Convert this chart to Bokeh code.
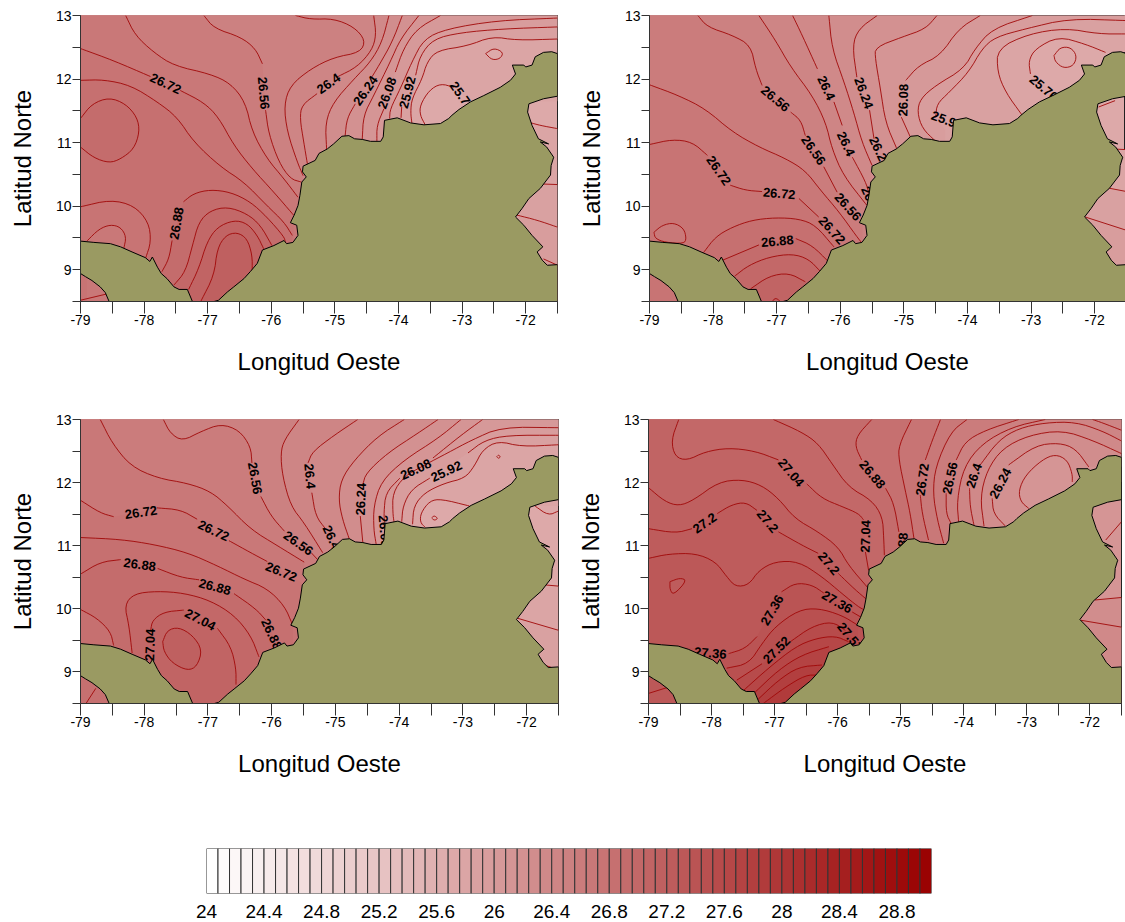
from bokeh.plotting import figure
from bokeh.layouts import column, row
from bokeh.models import Range1d, FixedTicker, Label
from bokeh.core.properties import value
from bokeh.embed import file_html
from bokeh.resources import INLINE

FONT = "Liberation Sans"
X_TICKS = [-79, -78, -77, -76, -75, -74, -73, -72]
X_LABELS = ["-79", "-78", "-77", "-76", "-75", "-74", "-73", "-72"]
X_MINOR = [-78.5, -77.5, -76.5, -75.5, -74.5, -73.5, -72.5, -71.5]
Y_TICKS = [9, 10, 11, 12, 13]
Y_MINOR = [8.5, 9.5, 10.5, 11.5, 12.5]
BAR_TICKS = [24, 24.4, 24.8, 25.2, 25.6, 26, 26.4, 26.8, 27.2, 27.6, 28, 28.4, 28.8]
BAR_LABELS = ["24", "24.4", "24.8", "25.2", "25.6", "26", "26.4", "26.8", "27.2", "27.6", "28", "28.4", "28.8"]
BAR_START, BAR_STEP, BAR_CELLS = 24.0, 0.08, 63

COAST_EAST = [(-76.90,8.50),(-76.83,8.52),(-76.69,8.65),(-76.59,8.73),(-76.43,8.86),(-76.33,8.97),(-76.22,9.10),(-76.14,9.31),
 (-75.96,9.38),(-75.80,9.46),(-75.76,9.41),(-75.66,9.43),(-75.58,9.54),(-75.60,9.70),(-75.70,9.74),(-75.64,9.86),(-75.58,10.01),
 (-75.55,10.17),(-75.52,10.38),(-75.45,10.46),(-75.51,10.54),(-75.50,10.63),(-75.31,10.72),(-75.25,10.83),(-75.12,10.90),(-75.02,10.98),
 (-74.89,11.10),(-74.78,11.11),(-74.69,11.06),(-74.57,11.05),(-74.44,11.02),(-74.28,11.02),(-74.24,11.09),(-74.22,11.35),(-74.02,11.39),
 (-73.81,11.31),(-73.60,11.28),(-73.34,11.30),(-73.21,11.38),(-73.16,11.43),(-73.05,11.52),(-72.87,11.64),(-72.66,11.74),(-72.40,11.87),
 (-72.24,11.98),(-72.16,12.08),(-72.21,12.22),(-72.03,12.22),(-72.00,12.19),(-71.90,12.22),(-71.85,12.35),(-71.72,12.42),(-71.59,12.43),
 (-71.5,12.40),(-71.5,11.73),(-71.72,11.69),(-71.95,11.61),(-71.97,11.48),(-71.90,11.27),(-71.80,11.06),(-71.64,10.98),(-71.77,11.01),
 (-71.67,10.93),(-71.56,10.77),(-71.60,10.64),(-71.61,10.49),(-71.77,10.28),(-71.95,10.12),(-72.06,9.96),(-72.16,9.83),(-72.03,9.70),
 (-71.90,9.54),(-71.73,9.36),(-71.82,9.28),(-71.74,9.15),(-71.66,9.07),(-71.5,9.08),(-71.5,8.5)]
COAST_WEST = [(-79,9.45),(-78.79,9.43),(-78.53,9.41),(-78.37,9.36),(-78.19,9.28),(-77.98,9.19),(-77.91,9.13),(-77.87,9.20),(-77.79,9.04),
 (-77.73,8.94),(-77.64,8.86),(-77.53,8.73),(-77.45,8.69),(-77.32,8.69),(-77.24,8.50),(-78.55,8.50),(-78.61,8.64),(-78.69,8.73),
 (-78.82,8.83),(-78.92,8.89),(-79,8.94)]

# (temperature, closing rule, read contour points; None = gap left for a label)
ENERO = [
 (25.76,"W",[(-72.87,11.65),None,(-73.13,11.87),(-73.34,11.93),(-73.52,11.82),(-73.66,11.59),(-73.66,11.43),(-73.58,11.28)]),
 (25.84,"W",[(-71.5,12.63),(-72.14,12.61),(-72.53,12.67),(-72.92,12.52),(-73.39,12.45),(-73.55,12.27),(-73.63,12.0),(-73.79,11.69),(-73.81,11.48),(-73.79,11.31)]),
 (25.92,"W",[(-71.5,12.82),(-72.35,12.79),(-73.03,12.73),(-73.45,12.63),(-73.66,12.37),(-73.73,12.06),None,(-73.95,11.56),(-73.96,11.39)]),
 (26.00,"W",[(-71.5,12.96),(-72.45,12.92),(-73.24,12.79),(-73.60,12.63),(-73.79,12.27),(-73.97,11.85),(-74.13,11.53),(-74.14,11.38)]),
 (26.08,"W",[(-73.34,13),(-73.71,12.79),(-73.92,12.48),(-74.05,12.11),None,(-74.23,11.53),(-74.34,11.27),(-74.34,11.02)]),
 (26.16,"W",[(-73.68,13),(-73.97,12.63),(-74.13,12.27),(-74.39,11.74),(-74.55,11.43),(-74.57,11.05)]),
 (26.24,"W",[(-73.94,13),(-74.10,12.58),(-74.31,12.21),(-74.42,12.03),None,(-74.68,11.61),(-74.81,11.38),(-74.84,11.10)]),
 (26.32,"W",[(-74.15,13),(-74.26,12.58),(-74.44,12.27),(-74.70,12.0),(-75.02,11.64),(-75.15,11.32),(-75.13,10.89)]),
 (26.40,"W",[(-74.39,13),(-74.35,12.69),(-74.42,12.45),(-74.65,12.19),(-74.97,12.03),None,(-75.28,11.77),(-75.52,11.59),(-75.55,11.38),(-75.49,11.01),(-75.43,10.65)]),
 (26.48,"W",[(-75.62,13),(-75.38,12.94),(-75.02,12.95),(-74.70,12.82),(-74.52,12.61),(-74.60,12.42),(-75.02,12.34),(-75.38,12.16),(-75.70,11.90),(-75.80,11.59),(-75.75,11.17),(-75.59,10.69),(-75.50,10.48)]),
 (26.56,"W",[(-77.06,13),(-76.90,12.80),(-76.48,12.66),(-76.25,12.48),(-76.14,12.24),None,(-76.09,11.51),(-76.04,11.14),(-75.88,10.69),(-75.70,10.43),(-75.53,10.38)]),
 (26.64,"W",[(-78.29,13),(-78.14,12.69),(-77.85,12.42),(-77.53,12.21),(-76.96,12.08),(-76.64,11.93),(-76.41,11.64),(-76.30,11.17),(-76.07,10.75),(-75.80,10.43),(-75.58,10.14)]),
 (26.72,"W",[(-79,12.48),(-78.48,12.29),(-77.90,12.04),None,(-77.43,11.82),(-77.06,11.63),(-76.83,11.40),(-76.59,10.96),(-76.30,10.59),(-75.96,10.22),(-75.65,9.86)]),
 (26.80,"W",[(-79,11.98),(-78.63,11.99),(-78.21,11.90),(-77.79,11.64),(-77.48,11.40),(-77.22,11.01),(-76.80,10.62),(-76.43,10.38),(-76.07,10.01),(-75.80,9.75),(-75.67,9.54)]),
 (26.88,"C",[(-79,11.38),(-78.82,11.61),(-78.55,11.71),(-78.29,11.61),(-78.11,11.40),(-78.07,11.17),(-78.16,10.90),(-78.37,10.74),(-78.55,10.68),(-78.79,10.76),(-79,10.93)]),
 (26.72,"W",[(-79,9.99),(-78.53,10.10),(-78.16,10.01),(-77.93,9.75),(-77.89,9.44),(-77.98,9.17)]),
 (26.64,"S",[(-78.90,9.45),(-78.71,9.64),(-78.53,9.71),(-78.37,9.67),(-78.28,9.52),(-78.32,9.33)]),
 (26.88,"S",[(-77.72,8.97),(-77.61,9.17),(-77.56,9.46),None,(-77.38,10.07),(-77.22,10.20),(-76.96,10.26),(-76.64,10.22),(-76.33,10.07),(-76.07,9.83),(-75.80,9.52),(-75.78,9.44)]),
 (26.96,"S",[(-77.53,8.76),(-77.35,8.97),(-77.24,9.38),(-77.14,9.75),(-76.96,9.93),(-76.69,9.99),(-76.38,9.88),(-76.17,9.70),(-75.99,9.38)]),
 (27.04,"S",[(-77.30,8.69),(-77.14,9.02),(-77.01,9.44),(-76.85,9.67),(-76.59,9.78),(-76.38,9.73),(-76.22,9.54),(-76.12,9.33)]),
 (27.12,"S",[(-77.11,8.5),(-76.90,8.91),(-76.85,9.33),(-76.72,9.54),(-76.54,9.59),(-76.38,9.49),(-76.30,9.23),(-76.30,8.97)]),
 (25.68,"C",[(-72.63,12.40),(-72.50,12.49),(-72.35,12.42),(-72.40,12.32),(-72.53,12.30),(-72.63,12.40)]),
 (26.48,"N",[(-79,8.52),(-78.58,8.62)]),
 (25.76,"R",[(-71.95,11.32),(-71.77,11.27),(-71.5,11.22)]),
 (25.84,"R",[(-71.77,10.35),(-71.5,10.34)]),
 (25.92,"R",[(-72.14,9.86),(-71.82,9.78),(-71.5,9.67)]),
 (26.00,"R",[(-71.72,9.17),(-71.5,9.07)]),
]
ENERO_TEXT = ["26.72","26.56","26.4","26.24","26.08","25.92","25.76","26.88"]
ENERO_LON = [-77.66,-76.12,-75.10,-74.52,-74.18,-73.86,-73.0,-77.49]
ENERO_LAT = [11.93,11.78,11.93,11.82,11.78,11.79,11.73,9.73]
ENERO_ANG = [-25,-85,35,55,70,75,-55,80]

FEBRERO = [
 (25.76,"W",[(-71.83,12.42),(-72.15,12.55),(-72.57,12.67),(-72.93,12.48),(-73.04,12.29),(-73.01,12.08),None,(-72.62,11.77)]),
 (25.84,"W",[(-71.5,12.71),(-71.94,12.71),(-72.46,12.80),(-73.04,12.71),(-73.53,12.48),(-73.53,12.11),(-73.40,11.79),(-73.14,11.43)]),
 (25.92,"W",[(-71.5,12.92),(-72.41,12.95),(-73.09,12.79),(-73.56,12.66),(-73.77,12.48),(-73.98,12.11),(-74.29,11.79),(-74.48,11.61),(-74.50,11.40),None,(-74.35,11.2)]),
 (26.00,"W",[(-72.98,13),(-73.61,12.79),(-73.88,12.48),(-74.06,12.16),(-74.50,11.90),(-74.74,11.69),(-74.79,11.48),(-74.71,11.22),(-74.50,11.02)]),
 (26.08,"W",[(-73.80,13),(-74.14,12.79),(-74.43,12.37),(-74.77,12.21),(-74.97,11.98),None,(-75.04,11.40),(-74.90,11.09)]),
 (26.16,"W",[(-74.48,13),(-74.66,12.79),(-75.03,12.66),(-75.45,12.50),(-75.45,12.32),(-75.37,11.85),(-75.29,11.32),(-75.11,10.90)]),
 (26.24,"W",[(-75.42,13),(-75.71,12.79),(-75.81,12.53),(-75.74,12.03),None,(-75.54,11.51),(-75.47,11.06),None,(-75.25,10.75)]),
 (26.32,"W",[(-76.18,13),(-76.13,12.48),(-75.94,11.95),(-75.79,11.48),(-75.66,11.01),(-75.50,10.64)]),
 (26.40,"W",[(-76.75,13),(-76.60,12.69),(-76.36,12.16),None,(-76.10,11.64),(-75.97,11.27),None,(-75.81,10.77),(-75.60,10.38),(-75.55,10.2)]),
 (26.48,"W",[(-77.28,13),(-77.02,12.61),(-76.78,12.19),(-76.44,11.74),(-76.23,11.32),(-76.13,10.90),(-75.95,10.48),(-75.58,10.01)]),
 (26.56,"W",[(-78.24,13),(-78.09,12.82),(-77.70,12.69),(-77.41,12.53),(-77.33,12.16),(-77.23,11.90),None,(-76.78,11.48),(-76.62,11.35),(-76.55,11.11),None,(-76.26,10.62),(-76.05,10.22),None,(-75.65,9.80)]),
 (26.64,"W",[(-79,11.91),(-78.54,11.74),(-78.12,11.53),(-77.70,11.17),(-77.28,10.93),(-76.86,10.75),(-76.55,10.56),(-76.31,10.25),(-76.02,9.91),(-75.74,9.52),(-75.66,9.42)]),
 (26.72,"W",[(-79,10.97),(-78.64,11.05),(-78.33,11.01),(-78.09,10.80),None,(-77.73,10.33),(-77.49,10.25),(-77.23,10.23),None,(-76.65,10.12),(-76.34,9.83),None,(-76.0,9.4)]),
 (26.64,"C",[(-78.93,9.59),(-78.80,9.70),(-78.62,9.74),(-78.46,9.65),(-78.42,9.49),(-78.46,9.41),(-78.75,9.43),(-78.91,9.49),(-78.93,9.59)]),
 (26.80,"S",[(-78.15,9.27),(-77.96,9.52),(-77.70,9.67),(-77.39,9.78),(-77.02,9.82),(-76.65,9.80),(-76.39,9.70),(-76.10,9.36)]),
 (26.88,"S",[(-77.85,9.15),(-77.28,9.39),None,(-76.70,9.49),(-76.44,9.38),(-76.18,9.12)]),
 (26.96,"S",[(-77.66,8.90),(-77.44,9.07),(-77.12,9.20),(-76.76,9.25),(-76.50,9.17),(-76.31,8.97)]),
 (27.04,"S",[(-77.41,8.70),(-77.12,8.90),(-76.81,8.95),(-76.55,8.81)]),
 (27.12,"S",[(-77.07,8.50),(-77.02,8.56),(-76.94,8.50)]),
 (25.68,"C",[(-72.64,12.37),(-72.54,12.50),(-72.38,12.50),(-72.28,12.37),(-72.33,12.21),(-72.49,12.17),(-72.62,12.27),(-72.64,12.37)]),
 (25.68,"N",[(-71.94,11.56),(-71.68,11.66)]),
 (25.76,"R",[(-71.73,10.90),(-71.5,10.89)]),
 (25.84,"R",[(-71.81,10.29),(-71.5,10.23)]),
 (25.92,"R",[(-72.15,9.83),(-71.5,9.62)]),
]
FEBRERO_TEXT = ["26.56","26.4","26.24","26.08","25.76","25.92","26.56","26.4","26.24","26.4","26.72","26.72","26.56","26.72","26.88"]
FEBRERO_LON = [-77.02,-76.22,-75.63,-75.01,-72.80,-74.32,-76.42,-75.91,-75.38,-75.53,-77.91,-76.96,-75.88,-76.13,-76.99]
FEBRERO_LAT = [11.69,11.86,11.78,11.67,11.86,11.35,10.88,10.98,10.85,10.12,10.56,10.20,9.99,9.62,9.45]
FEBRERO_ANG = [-40,-65,-70,88,-40,-20,-55,-65,-65,-65,-55,-5,-48,-48,5]

MARZO = [
 (25.76,"W",[(-72.90,11.63),(-73.34,11.74),(-73.52,11.71),(-73.66,11.52),(-73.67,11.37),(-73.59,11.29)]),
 (25.84,"W",[(-71.5,12.60),(-72.08,12.57),(-72.45,12.66),(-72.69,12.52),(-72.82,12.26),(-72.97,12.07),(-73.29,11.99),(-73.60,11.84),(-73.77,11.63),(-73.79,11.34)]),
 (25.92,"W",[(-71.5,12.75),(-72.29,12.75),(-72.66,12.67),(-72.92,12.47),None,(-73.52,12.07),(-73.81,11.89),(-73.94,11.63),(-73.96,11.38)]),
 (26.00,"W",[(-71.5,12.87),(-72.40,12.88),(-72.87,12.67),(-73.24,12.47),(-73.60,12.28),(-73.92,12.10),(-74.10,11.84),(-74.10,11.52),(-74.08,11.37)]),
 (26.08,"W",[(-72.69,13),(-73.03,12.75),(-73.47,12.39),None,(-73.99,12.07),(-74.21,11.84),(-74.24,11.52),(-74.23,11.37)]),
 (26.16,"W",[(-73.03,13),(-73.39,12.70),(-73.92,12.36),(-74.28,12.02),(-74.40,11.63),(-74.40,11.26),(-74.36,11.02)]),
 (26.24,"W",[(-73.39,13),(-73.71,12.78),(-74.18,12.47),(-74.52,12.15),(-74.57,11.97),None,(-74.61,11.47),(-74.57,11.05)]),
 (26.32,"W",[(-73.92,13),(-74.34,12.73),(-74.70,12.36),(-74.91,12.05),(-74.95,11.73),(-74.89,11.42),(-74.78,11.10)]),
 (26.40,"W",[(-74.65,13),(-75.02,12.75),(-75.36,12.49),(-75.43,12.31),None,(-75.37,11.84),(-75.31,11.47),(-75.15,11.26),None,(-74.95,10.95)]),
 (26.48,"W",[(-75.57,13),(-75.80,12.68),(-75.86,12.47),(-75.83,12.10),(-75.70,11.63),(-75.49,11.36),(-75.2,10.89)]),
 (26.56,"W",[(-77.70,13),(-77.59,12.78),(-77.40,12.66),(-77.11,12.81),(-76.80,12.93),(-76.51,12.83),(-76.33,12.57),(-76.31,12.31),None,(-76.17,11.78),(-76.01,11.47),(-75.80,11.23),None,(-75.38,10.89),(-75.28,10.78)]),
 (26.64,"W",[(-78.69,13),(-78.50,12.62),(-78.21,12.26),(-77.79,12.07),(-77.32,11.99),(-76.96,11.86),(-76.69,11.63),(-76.33,11.26),(-75.91,11.0),(-75.49,10.74)]),
 (26.72,"W",[(-79,11.72),(-78.69,11.52),(-78.48,11.46),None,(-77.80,11.60),(-77.43,11.57),(-77.17,11.42),None,(-76.67,11.08),(-76.33,10.89),(-76.07,10.75),None,(-75.54,10.42)]),
 (26.80,"W",[(-79,11.13),(-78.37,11.10),(-77.85,11.02),(-77.32,10.89),(-76.85,10.68),(-76.43,10.47),(-76.07,10.32),(-75.80,10.05),(-75.67,9.74)]),
 (26.88,"W",[(-79,10.55),(-78.69,10.74),(-78.37,10.78),None,(-77.79,10.64),(-77.43,10.50),(-77.14,10.46),None,(-76.59,10.24),(-76.25,10.0),(-76.09,9.82),None,(-75.88,9.37)]),
 (26.80,"W",[(-79,9.99),(-78.74,9.85),(-78.53,9.64),(-78.48,9.42)]),
 (26.96,"S",[(-78.19,9.30),(-78.24,9.74),(-78.31,10.06),(-78.16,10.24),(-77.80,10.28),(-77.38,10.25),(-76.96,10.13),(-76.59,9.90),(-76.33,9.58),(-76.20,9.24)]),
 (27.04,"S",[(-77.91,9.14),None,(-77.90,9.66),(-77.87,9.82),(-77.69,9.95),(-77.38,9.98),None,(-76.85,9.69),(-76.64,9.40),(-76.56,9.06),(-76.56,8.80)]),
 (27.12,"C",[(-77.71,9.48),(-77.64,9.66),(-77.46,9.71),(-77.24,9.58),(-77.09,9.35),(-77.17,9.09),(-77.32,9.02),(-77.56,9.14),(-77.69,9.32),(-77.71,9.48)]),
 (25.68,"C",[(-73.49,11.44),(-73.45,11.48),(-73.39,11.43),(-73.45,11.40),(-73.49,11.44)]),
 (25.68,"C",[(-72.47,12.41),(-72.44,12.44),(-72.41,12.41),(-72.44,12.38),(-72.47,12.41)]),
 (26.80,"N",[(-78.76,8.74),(-78.92,8.49)]),
 (25.68,"N",[(-71.87,11.63),(-71.66,11.48),(-71.5,11.55)]),
 (25.76,"R",[(-71.72,10.38),(-71.5,10.36)]),
 (25.84,"R",[(-72.14,9.85),(-71.5,9.66)]),
 (25.92,"N",[(-71.72,9.11),(-71.61,9.07)]),
]
MARZO_TEXT = ["26.72","26.72","26.72","26.88","26.88","26.88","27.04","27.04","26.56","26.56","26.4","26.24","26.4","26.08","25.92","26.08"]
MARZO_LON = [-78.05,-76.91,-75.85,-78.07,-76.89,-76.0,-77.12,-77.91,-76.26,-75.58,-75.40,-74.60,-75.06,-73.74,-73.26,-74.23]
MARZO_LAT = [11.53,11.24,10.59,10.70,10.35,9.60,9.83,9.43,12.07,11.04,12.10,11.74,11.13,12.21,12.18,11.23]
MARZO_ANG = [8,-25,-22,-8,-15,-65,-28,88,-80,-35,-85,88,-65,25,25,-85]

ABRIL = [
 (26.16,"W",[(-72.28,12.01),(-72.28,12.14),(-72.36,12.36),(-72.55,12.45),(-72.76,12.36),(-73.02,12.12),(-73.13,11.88),(-73.10,11.70),(-72.97,11.59)]),
 (26.24,"W",[(-72.02,12.25),(-72.23,12.54),(-72.49,12.63),(-72.86,12.59),(-73.29,12.28),None,(-73.55,11.75),(-73.53,11.51),(-73.34,11.31)]),
 (26.32,"W",[(-71.5,12.46),(-71.96,12.67),(-72.44,12.83),(-72.97,12.75),(-73.39,12.54),(-73.63,12.20),(-73.74,11.77),(-73.68,11.31)]),
 (26.40,"W",[(-71.5,12.66),(-71.81,12.82),(-72.23,12.96),(-72.71,12.95),(-73.13,12.86),(-73.45,12.67),(-73.74,12.28),None,(-73.91,11.91),(-73.90,11.62),(-73.84,11.33)]),
 (26.48,"W",[(-72.71,13),(-73.24,12.88),(-73.71,12.62),(-74.0,12.25),(-74.11,11.72),(-74.08,11.35)]),
 (26.56,"W",[(-73.13,13),(-73.66,12.83),(-73.98,12.65),(-74.12,12.36),None,(-74.28,11.83),(-74.28,11.51),(-74.20,11.35)]),
 (26.64,"W",[(-73.95,13),(-74.21,12.80),(-74.45,12.25),(-74.49,11.83),(-74.42,11.41),(-74.32,11.04)]),
 (26.72,"W",[(-74.37,13),(-74.50,12.67),(-74.61,12.36),None,(-74.69,11.80),(-74.66,11.51),(-74.56,11.09)]),
 (26.80,"W",[(-74.83,13),(-75.03,12.59),(-75.03,12.36),(-74.93,11.88),(-74.85,11.51),(-74.79,11.11)]),
 (26.88,"W",[(-75.46,13),(-75.69,12.75),(-75.72,12.57),(-75.62,12.36),None,(-75.24,11.91),(-75.11,11.67),(-75.03,11.22)]),
 (26.96,"W",[(-77.02,13),(-76.57,12.80),(-76.31,12.62),(-76.09,12.30),(-75.83,11.93),(-75.46,11.72),(-75.29,11.46),(-75.27,11.12),(-75.26,10.85)]),
 (27.04,"W",[(-78.52,13),(-78.64,12.67),(-78.58,12.41),(-78.39,12.35),(-78.10,12.49),(-77.73,12.55),(-77.31,12.50),(-76.94,12.36),None,(-76.49,11.98),(-76.25,11.75),(-75.93,11.62),(-75.67,11.51),(-75.59,11.41),None,(-75.56,10.90),(-75.51,10.61)]),
 (27.12,"W",[(-79,11.92),(-78.74,11.70),(-78.52,11.63),(-78.29,11.72),(-77.89,12.01),(-77.52,12.05),(-77.21,11.96),(-76.94,11.75),(-76.68,11.43),(-76.31,11.22),(-75.99,10.98),(-75.83,10.69),(-75.51,10.32)]),
 (27.20,"W",[(-79,11.27),(-78.57,11.20),(-78.31,11.27),None,(-77.91,11.51),(-77.68,11.65),(-77.46,11.69),(-77.28,11.56),None,(-76.94,11.22),(-76.57,11.01),(-76.31,10.88),None,(-75.99,10.56),(-75.72,10.30),(-75.53,10.14)]),
 (27.28,"W",[(-79,10.80),(-78.68,10.87),(-78.26,10.88),(-77.94,10.75),(-77.76,10.51),(-77.62,10.35),(-77.41,10.38),(-77.25,10.61),(-76.99,10.75),(-76.62,10.75),(-76.25,10.51),(-75.93,10.24),(-75.67,10.03),(-75.57,9.98)]),
 (27.20,"C",[(-78.66,10.43),(-78.50,10.49),(-78.39,10.45),(-78.60,10.22),(-78.66,10.30),(-78.66,10.43)]),
 (27.36,"S",[(-78.42,9.40),None,(-77.73,9.29),(-77.47,9.37),(-77.28,9.56),None,(-76.89,10.27),(-76.67,10.41),(-76.41,10.38),(-76.22,10.25),None,(-75.77,9.95),(-75.60,9.85)]),
 (27.44,"S",[(-77.76,9.06),(-77.41,9.13),(-77.20,9.45),(-76.99,9.72),(-76.62,9.98),(-76.31,10.01),(-75.94,9.90),(-75.68,9.74)]),
 (27.52,"S",[(-77.60,8.87),(-77.20,9.13),None,(-76.75,9.48),(-76.41,9.72),(-76.09,9.80),(-75.88,9.66),None,(-75.69,9.45)]),
 (27.60,"S",[(-77.49,8.71),(-77.10,9.06),(-76.67,9.40),(-76.35,9.53),(-76.04,9.57),(-75.83,9.48)]),
 (27.68,"S",[(-77.33,8.66),(-76.94,9.03),(-76.57,9.27),(-76.14,9.40)]),
 (27.76,"S",[(-77.28,8.55),(-76.94,8.87),(-76.62,9.08),(-76.25,9.11)]),
 (27.84,"S",[(-77.18,8.50),(-76.83,8.76),(-76.51,8.95),(-76.30,8.95)]),
 (26.48,"N",[(-71.5,12.83),(-71.81,12.95),(-71.96,13)]),
 (27.20,"N",[(-79,8.66),(-78.68,8.76)]),
 (26.16,"N",[(-71.75,11.09),(-71.5,11.38)]),
 (26.24,"R",[(-71.92,10.14),(-71.5,10.18)]),
 (26.32,"R",[(-72.15,9.82),(-71.5,9.71)]),
]
ABRIL_TEXT = ["27.04","26.88","26.72","26.56","26.4","26.24","27.2","27.2","27.04","27.2","27.36","27.36","27.36","27.52","27.52","26.88"]
ABRIL_LON = [-76.74,-75.45,-74.66,-74.22,-73.84,-73.42,-78.11,-77.11,-75.56,-76.14,-77.04,-76.01,-78.02,-76.97,-75.80,-74.98]
ABRIL_LAT = [12.16,12.13,12.05,12.07,12.11,11.99,11.36,11.39,11.15,10.72,9.98,10.11,9.30,9.35,9.56,10.95]
ABRIL_ANG = [-50,-50,82,78,72,62,35,-50,88,-50,60,-30,-5,45,-50,85]


def ramp(v):
    t = min(max((v - 24.0) / 5.0, 0), 1)
    return "#%02x%02x%02x" % (round(255 - 102 * t), round(255 * (1 - t)), round(255 * (1 - t)))


def runs(pts):
    out, cur = [], []
    for q in pts:
        if q is None:
            if cur:
                out.append(cur)
            cur = []
        else:
            cur.append(q)
    if cur:
        out.append(cur)
    return out


def rounded(run, passes=2):
    # corner rounding for drawing only: the read points remain the data
    for _ in range(passes):
        if len(run) < 3:
            return run
        new = [run[0]]
        for a, b in zip(run[:-1], run[1:]):
            new.append((0.75 * a[0] + 0.25 * b[0], 0.75 * a[1] + 0.25 * b[1]))
            new.append((0.25 * a[0] + 0.75 * b[0], 0.25 * a[1] + 0.75 * b[1]))
        new.append(run[-1])
        run = new
    return run


def outline(mode, pts):
    line = [q for r in runs(pts) for q in rounded(r)]
    first, last = line[0], line[-1]
    if mode == "C":
        return line
    if mode == "S":
        return line + [(last[0], 8.5), (first[0], 8.5)]
    if mode == "R":
        return line + [(-71.5, 8.5), (-72.4, 8.5), (-72.4, first[1])]
    extra = [(last[0], 8.5), (-79, 8.5)]
    if first[0] > -79:
        extra.append((-79, 13))
    if first[1] < 13 and first[0] > -79:
        extra += [(-71.5, 13), (-71.5, first[1])]
    return line + extra


def panel(width, height, left, right, top, bottom, x_end, base, contours, texts, lons, lats, angles,
          caption, cap_x, cap_y):
    p = figure(width=width, height=height, x_range=Range1d(-79, x_end), y_range=Range1d(8.5, 13),
               output_backend="svg", toolbar_location=None, min_border_left=left, min_border_right=right,
               min_border_top=top, min_border_bottom=bottom, background_fill_color=ramp(base),
               outline_line_color="#222222", x_axis_label="Longitud Oeste", y_axis_label="Latitud Norte")
    p.grid.visible = False
    fills = [(lv, outline(m, pts)) for lv, m, pts in contours if m != "N"]
    p.patches([[q[0] for q in f] for _, f in fills], [[q[1] for q in f] for _, f in fills],
              fill_color=[ramp(lv) for lv, _ in fills], line_color=None)
    segs = [rounded(r) for _, _, pts in contours for r in runs(pts)]
    p.multi_line([[q[0] for q in s] for s in segs], [[q[1] for q in s] for s in segs],
                 line_color="#a00808", line_width=0.9)
    p.text(lons, lats, text=texts, angle=angles, angle_units="deg", text_font=value(FONT),
           text_font_size="13px", text_font_style="bold", text_color="black",
           text_align="center", text_baseline="middle")
    for coast in (COAST_EAST, COAST_WEST):
        p.patch([q[0] for q in coast], [q[1] for q in coast], fill_color="#9a9a62", line_color="black", line_width=1)
    p.xaxis.ticker = FixedTicker(ticks=X_TICKS, minor_ticks=X_MINOR)
    p.xaxis.major_label_overrides = dict(zip(X_TICKS, X_LABELS))
    p.yaxis.ticker = FixedTicker(ticks=Y_TICKS, minor_ticks=Y_MINOR)
    for ax, tick, st in ((p.xaxis, 12, 20), (p.yaxis, 8, 17)):
        ax.major_tick_out = tick
        ax.minor_tick_out = tick
        ax.major_tick_in = 0
        ax.minor_tick_in = 0
        ax.axis_line_color = "#333333"
        ax.major_tick_line_color = "#333333"
        ax.minor_tick_line_color = "#333333"
        ax.major_label_text_font = FONT
        ax.major_label_text_font_size = "14px"
        ax.major_label_text_color = "black"
        ax.major_label_standoff = 1
        ax.axis_label_text_font = FONT
        ax.axis_label_text_font_size = "24px"
        ax.axis_label_text_font_style = "normal"
        ax.axis_label_text_color = "black"
        ax.axis_label_standoff = st
    p.yaxis.major_label_orientation = "horizontal"
    p.add_layout(Label(x=cap_x, y=cap_y, x_units="screen", y_units="screen", text=caption, text_font=FONT,
                       text_font_size="23px", text_align="center", text_baseline="middle", text_color="black"))
    return p


a = panel(568, 410, 80, 11, 15, 109, -71.5, 25.68, ENERO, ENERO_TEXT, ENERO_LON, ENERO_LAT, ENERO_ANG, "a) Enero", 198, -92)
b = panel(557, 410, 81, 0, 15, 109, -71.516, 25.68, FEBRERO, FEBRERO_TEXT, FEBRERO_LON, FEBRERO_LAT, FEBRERO_ANG, "b) Febrero", 198, -92)
c = panel(567, 400, 80, 9, 9, 104, -71.5, 25.68, MARZO, MARZO_TEXT, MARZO_LON, MARZO_LAT, MARZO_ANG, "c) Marzo", 198, -90)
d = panel(558, 400, 81, 4, 9, 107, -71.5, 26.08, ABRIL, ABRIL_TEXT, ABRIL_LON, ABRIL_LAT, ABRIL_ANG, "d) Abril", 200, -93)

edges = [BAR_START + BAR_STEP * i for i in range(BAR_CELLS + 1)]
bar = figure(width=951, height=110, x_range=Range1d(edges[0], edges[-1]), y_range=Range1d(0, 1),
             output_backend="svg", toolbar_location=None, min_border_left=206, min_border_right=20,
             min_border_top=38, min_border_bottom=26, outline_line_color=None)
bar.grid.visible = False
bar.yaxis.visible = False
bar.quad(left=edges[:-1], right=edges[1:], bottom=0, top=1, fill_color=[ramp(e) for e in edges[:-1]],
         line_color="#333333", line_width=1)
bar.xaxis.ticker = FixedTicker(ticks=BAR_TICKS)
bar.xaxis.major_label_overrides = dict(zip(BAR_TICKS, BAR_LABELS))
bar.xaxis.major_tick_line_color = None
bar.xaxis.minor_tick_line_color = None
bar.xaxis.axis_line_color = None
bar.xaxis.major_label_text_font = FONT
bar.xaxis.major_label_text_font_size = "19px"
bar.xaxis.major_label_text_color = "black"
bar.xaxis.major_label_standoff = 5

page = column(row(a, b), row(c, d), bar)
open("out.html", "w").write(file_html(page, INLINE))
